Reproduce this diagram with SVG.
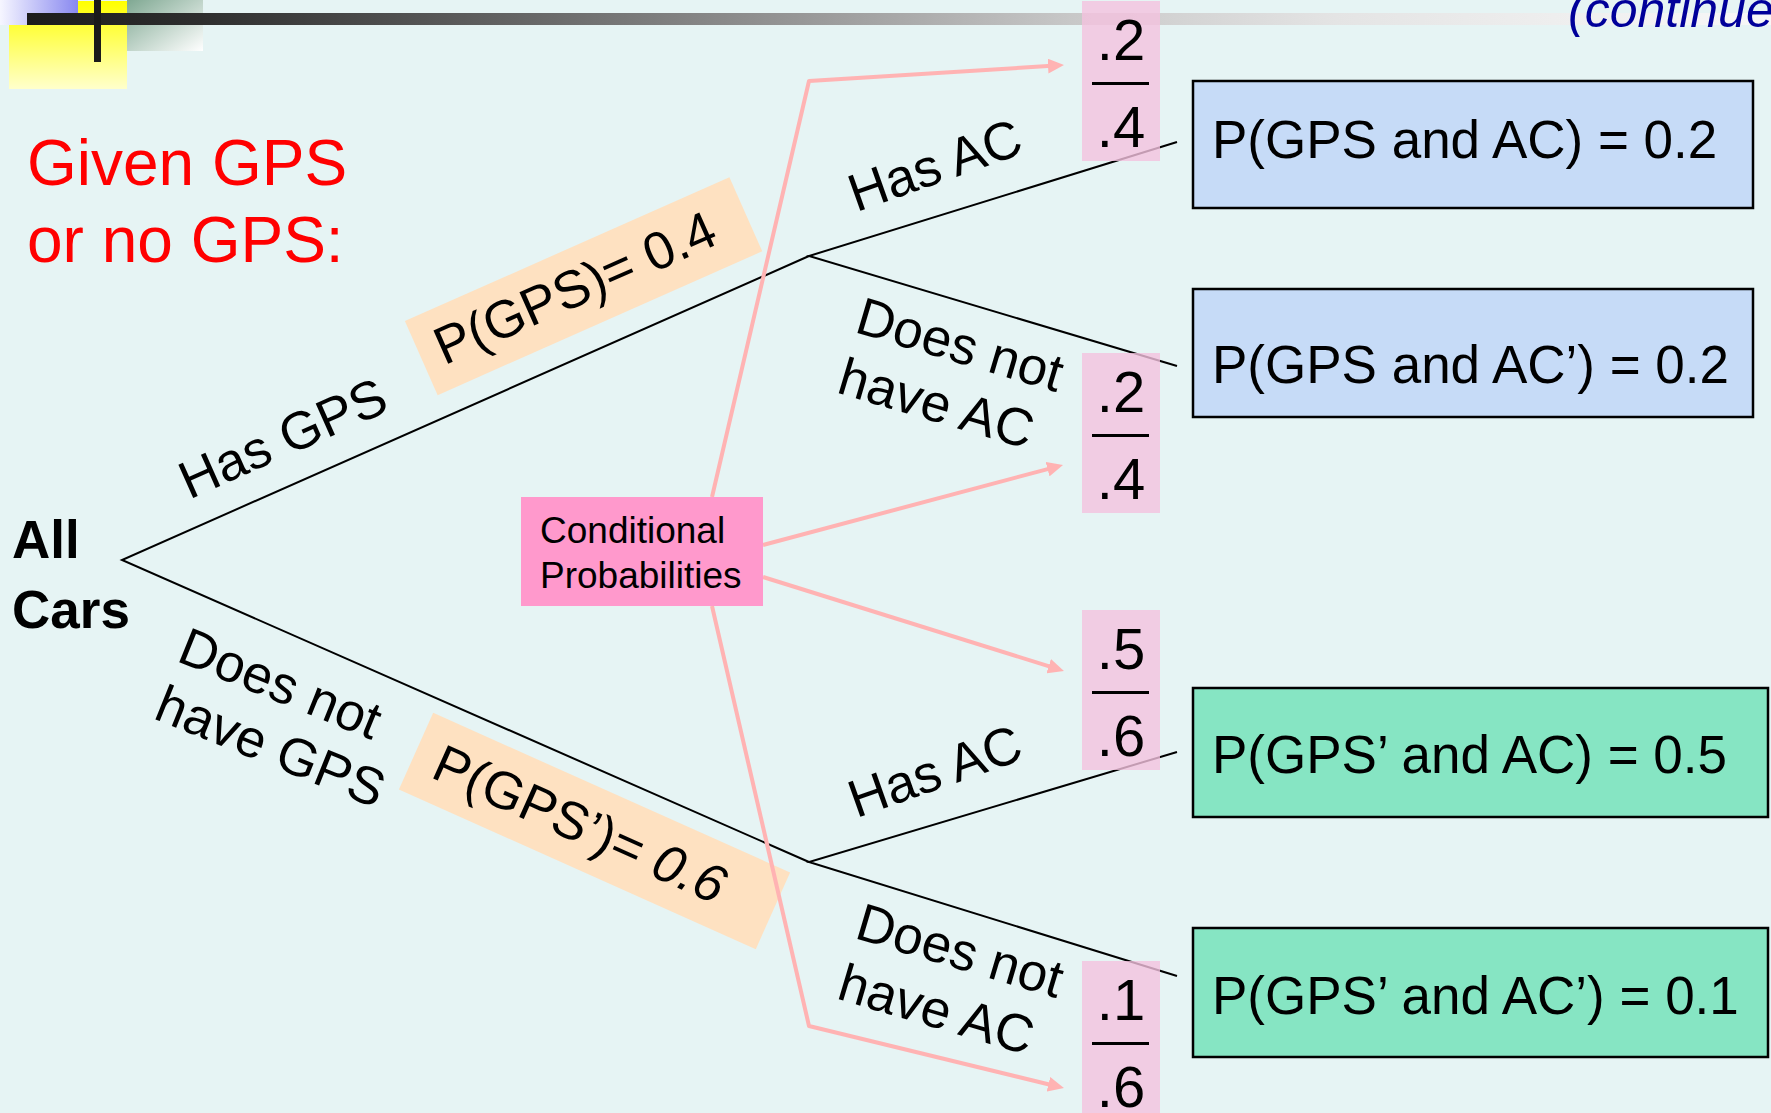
<svg xmlns="http://www.w3.org/2000/svg" width="1771" height="1113" viewBox="0 0 1771 1113">
  <defs>
    <linearGradient id="barGrad" gradientUnits="userSpaceOnUse" x1="27" y1="0" x2="1771" y2="0">
      <stop offset="0" stop-color="#1c1c1c"/>
      <stop offset="0.1" stop-color="#2e2e2e"/>
      <stop offset="0.3" stop-color="#6a6a6a"/>
      <stop offset="0.45" stop-color="#999999"/>
      <stop offset="0.6" stop-color="#c8c8c8"/>
      <stop offset="0.75" stop-color="#e4e4e4"/>
      <stop offset="1" stop-color="#f8f8f8"/>
    </linearGradient>
    <linearGradient id="lavGrad" x1="0" y1="0" x2="1" y2="0">
      <stop offset="0" stop-color="#f6f6ff"/>
      <stop offset="1" stop-color="#8888f0"/>
    </linearGradient>
    <linearGradient id="yelGrad" x1="0" y1="0" x2="0" y2="1">
      <stop offset="0" stop-color="#ffff00"/>
      <stop offset="1" stop-color="#ffffcc"/>
    </linearGradient>
    <linearGradient id="tealGrad" x1="0" y1="0" x2="1" y2="1">
      <stop offset="0" stop-color="#7fa892"/>
      <stop offset="1" stop-color="#ffffff"/>
    </linearGradient>
    <marker id="arrow" viewBox="0 0 16 15" refX="4" refY="7.5" markerWidth="16" markerHeight="15" markerUnits="userSpaceOnUse" orient="auto">
      <path d="M0,0 L16,7.5 L0,15 Z" fill="#ffb3b3"/>
    </marker>
  </defs>
  <style>
    text { font-family: "Liberation Sans", Arial, sans-serif; fill: #000; }
    .lbl { font-size: 53px; }
    .branch { stroke: #000; stroke-width: 2; fill: none; }
    .cond { stroke: #ffb3b3; stroke-width: 4; fill: none; stroke-linejoin: round; marker-end: url(#arrow); }
    .frac .bg { fill: #f4c2de; fill-opacity: 0.8; }
    .frac .bar { fill: #000; }
    .frac text { font-size: 58px; text-anchor: middle; }
    .joint rect { stroke: #000; stroke-width: 2.5; }
    .joint text { font-size: 53px; }
    .blue { fill: #c6dbf7; }
    .green { fill: #86e5c3; }
    .peach { fill: #fee1c1; }
  </style>

  <!-- slide background -->
  <rect x="0" y="0" width="1771" height="1113" fill="#e6f4f4"/>

  <!-- title ornament -->
  <g id="ornament">
    <rect x="9" y="1" width="118" height="88" fill="url(#yelGrad)"/>
    <rect x="0" y="0" width="78" height="25" fill="url(#lavGrad)"/>
    <rect x="127" y="0" width="76" height="51" fill="url(#tealGrad)"/>
    <rect x="27" y="13" width="1744" height="12" fill="url(#barGrad)"/>
    <rect x="94" y="0" width="7" height="62" fill="#1a1a1a"/>
  </g>

  <text id="continued" x="1568" y="27" font-size="50" font-style="italic" style="fill:#00009a">(continued)</text>

  <g id="heading">
    <text x="27" y="185" font-size="64" style="fill:#ff0000">Given GPS</text>
    <text x="27" y="262" font-size="64" style="fill:#ff0000">or no GPS:</text>
  </g>

  <g id="root">
    <text x="12" y="558" font-size="53" font-weight="bold">All</text>
    <text x="12" y="628" font-size="53" font-weight="bold">Cars</text>
  </g>

  <!-- tree branches -->
  <g id="connectors">
    <g id="branches">
      <polyline class="branch" points="809,256 122,560 809,862"/>
      <polyline class="branch" points="1177,142 809,256 1177,366"/>
      <polyline class="branch" points="1177,752 809,862 1177,976"/>
    </g>
  </g>

  <!-- branch labels -->
  <g id="label-has-gps" transform="translate(193,498) rotate(-24)">
    <text class="lbl" x="-4" y="0">Has GPS</text>
  </g>
  <g id="label-no-gps" transform="translate(179,662) rotate(22)">
    <text class="lbl" x="-4" y="0">Does not</text>
    <text class="lbl" x="-4" y="62">have GPS</text>
  </g>
  <g id="label-gps-ac" transform="translate(860,211) rotate(-19.5)">
    <text class="lbl" x="-4" y="0">Has AC</text>
  </g>
  <g id="label-gps-no-ac" transform="translate(857,333) rotate(16.5)">
    <text class="lbl" x="-4" y="0">Does not</text>
    <text class="lbl" x="-4" y="63">have AC</text>
  </g>
  <g id="label-nogps-ac" transform="translate(860,817) rotate(-19.5)">
    <text class="lbl" x="-4" y="0">Has AC</text>
  </g>
  <g id="label-nogps-no-ac" transform="translate(857,939) rotate(16.5)">
    <text class="lbl" x="-4" y="0">Does not</text>
    <text class="lbl" x="-4" y="63">have AC</text>
  </g>

  <!-- marginal probabilities -->
  <g id="p-gps" transform="translate(584,286) rotate(-23.9)">
    <rect class="peach" x="-178" y="-40.5" width="355" height="81"/>
    <text class="lbl" x="-160" y="16">P(GPS)= 0.4</text>
  </g>
  <g id="p-no-gps" transform="translate(594.5,831) rotate(24.1)">
    <rect class="peach" x="-195.5" y="-42" width="391" height="84"/>
    <text class="lbl" x="-173" y="18">P(GPS’)= <tspan font-style="italic">0.6</tspan></text>
  </g>

  <!-- conditional probability pointers -->
  <g id="cond-arrows">
    <polyline class="cond" points="712,497 809,81 1052,65.8"/>
    <line class="cond" x1="763" y1="545" x2="1051.4" y2="468.1"/>
    <line class="cond" x1="763" y1="577" x2="1052.5" y2="667.4"/>
    <polyline class="cond" points="712,606 809,1026 1052.3,1085.2"/>
  </g>

  <g id="cond-box">
    <rect x="521" y="497" width="242" height="109" fill="#ff99cc"/>
    <text x="540" y="543" font-size="37">Conditional</text>
    <text x="540" y="588" font-size="37">Probabilities</text>
  </g>

  <!-- conditional fractions -->
  <g id="frac-gps-ac" class="frac">
    <rect class="bg" x="1082" y="1" width="78" height="160"/>
    <text x="1121" y="60">.2</text>
    <rect class="bar" x="1092" y="82" width="57" height="3"/>
    <text x="1121" y="147">.4</text>
  </g>
  <g id="frac-gps-no-ac" class="frac">
    <rect class="bg" x="1082" y="353" width="78" height="160"/>
    <text x="1121" y="412">.2</text>
    <rect class="bar" x="1092" y="434" width="57" height="3"/>
    <text x="1121" y="499">.4</text>
  </g>
  <g id="frac-nogps-ac" class="frac">
    <rect class="bg" x="1082" y="610" width="78" height="160"/>
    <text x="1121" y="669">.5</text>
    <rect class="bar" x="1092" y="691" width="57" height="3"/>
    <text x="1121" y="756">.6</text>
  </g>
  <g id="frac-nogps-no-ac" class="frac">
    <rect class="bg" x="1082" y="961" width="78" height="160"/>
    <text x="1121" y="1020">.1</text>
    <rect class="bar" x="1092" y="1042" width="57" height="3"/>
    <text x="1121" y="1107">.6</text>
  </g>

  <!-- joint probabilities -->
  <g id="joint-gps-ac" class="joint">
    <rect class="blue" x="1193" y="81" width="560" height="127"/>
    <text x="1212" y="158">P(GPS and AC) = 0.2</text>
  </g>
  <g id="joint-gps-no-ac" class="joint">
    <rect class="blue" x="1193" y="289" width="560" height="128"/>
    <text x="1212" y="383">P(GPS and AC’) = 0.2</text>
  </g>
  <g id="joint-nogps-ac" class="joint">
    <rect class="green" x="1193" y="688" width="575" height="129"/>
    <text x="1212" y="773">P(GPS’ and AC) = 0.5</text>
  </g>
  <g id="joint-nogps-no-ac" class="joint">
    <rect class="green" x="1193" y="928" width="575" height="129"/>
    <text x="1212" y="1014">P(GPS’ and AC’) = 0.1</text>
  </g>
</svg>
